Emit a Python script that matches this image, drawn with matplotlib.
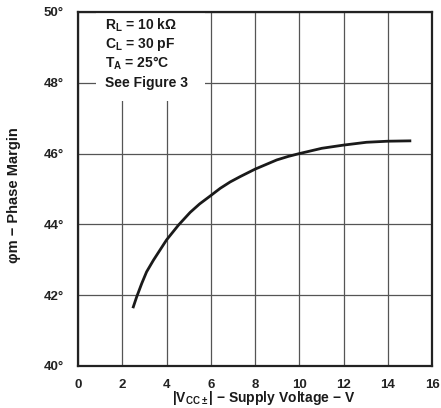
import numpy as np
import matplotlib.pyplot as plt
from matplotlib.patches import Rectangle

# data
supply_v = [2.5, 2.65, 2.88, 3.1, 3.41, 3.71, 4.0, 4.54, 5.07, 5.5, 5.97,
            6.43, 6.88, 7.33, 8.0, 8.98, 9.5, 10.0, 11.02, 12.0, 13.04, 14.0,
            15.0]
phase_margin = [41.67, 41.95, 42.33, 42.66, 42.99, 43.28, 43.56, 43.98, 44.34,
                44.58, 44.80, 45.02, 45.20, 45.35, 45.56, 45.82, 45.92, 46.0,
                46.15, 46.24, 46.32, 46.35, 46.36]

x_ticks = [0, 2, 4, 6, 8, 10, 12, 14, 16]
y_ticks = [40, 42, 44, 46, 48, 50]
y_labels = [f"{v}°" for v in y_ticks]

notes = [r"$R_L$ = 10 kΩ", r"$C_L$ = 30 pF", r"$T_A$ = 25°C", "See Figure 3"]

plt.rcParams["font.family"] = ["Liberation Sans", "DejaVu Sans"]
plt.rcParams["font.weight"] = "bold"
plt.rcParams["mathtext.fontset"] = "custom"
plt.rcParams["mathtext.rm"] = "Liberation Sans:bold"
plt.rcParams["mathtext.it"] = "Liberation Sans:bold"
plt.rcParams["mathtext.bf"] = "Liberation Sans:bold"
plt.rcParams["mathtext.default"] = "rm"

fig = plt.figure(figsize=(4.41, 4.08), dpi=100)
ax = fig.add_axes([78 / 441, 42 / 408, 354 / 441, 354 / 408])

ax.set_xlim(0, 16)
ax.set_ylim(40, 50)
ax.set_xticks(x_ticks)
ax.set_yticks(y_ticks)
ax.set_yticklabels(y_labels)
ax.tick_params(length=0, labelsize=9.5, colors="#222222")
ax.tick_params(axis="x", pad=9)
ax.tick_params(axis="y", pad=10)
for lab in ax.get_xticklabels() + ax.get_yticklabels():
    lab.set_fontweight("bold")

ax.grid(True, color="#555555", linewidth=0.9)
ax.set_axisbelow(True)
for s in ax.spines.values():
    s.set_linewidth(1.6)
    s.set_color("#222222")

# white area behind the notes
ax.add_patch(Rectangle((0.05, 0.75), 0.31, 0.25, transform=ax.transAxes,
                       facecolor="white", edgecolor="none", zorder=1.5))

ax.plot(supply_v, phase_margin, color="#1a1a1a", linewidth=2.0, zorder=3,
        solid_joinstyle="round")

for i, t in enumerate(notes):
    ax.text(0.075, 0.962 - i * 0.054, t, transform=ax.transAxes, fontsize=10,
            fontweight="bold", va="center", ha="left", color="#1a1a1a", zorder=4)

ax.set_xlabel(r"$|V_{CC\pm}|$ − Supply Voltage − V", fontsize=10,
              fontweight="bold", color="#1a1a1a")
ax.xaxis.set_label_coords(0.525, -0.066)
ax.set_ylabel("φm − Phase Margin", fontsize=10.5, fontweight="bold",
              color="#1a1a1a")
ax.yaxis.set_label_coords(-0.16, 0.483)

fig.savefig("out.png", dpi=100)
